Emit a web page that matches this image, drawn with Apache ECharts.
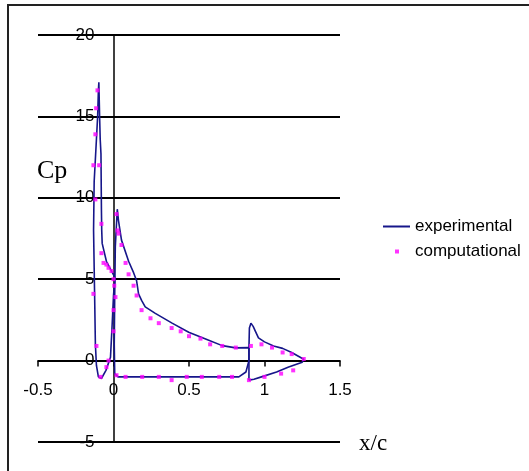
<!DOCTYPE html>
<html>
<head>
<meta charset="utf-8">
<script src="https://cdn.jsdelivr.net/npm/echarts@6/dist/echarts.min.js"></script>
<style>
html,body{margin:0;padding:0;background:#fff;}
#chart{width:529px;height:471px;}
</style>
</head>
<body>
<div id="chart"></div>
<script>
// x ticks and y ticks
const xTicks = [-0.5, 0, 0.5, 1, 1.5];
const yTicks = [-5, 0, 5, 10, 15, 20];

// experimental: slat element (closed loop)
const slatExp = [
  [0.010, 5.1], [-0.013, 5.5], [-0.047, 6.1], [-0.075, 7.2], [-0.078, 8.0],
  [-0.080, 9.3], [-0.083, 12.7], [-0.088, 13.6], [-0.092, 15.0], [-0.097, 17.1],
  [-0.100, 16.6], [-0.105, 15.0], [-0.113, 13.6], [-0.126, 13.5], [-0.128, 11.0],
  [-0.132, 8.0], [-0.125, 4.0], [-0.120, 1.0], [-0.113, -0.3], [-0.100, -1.0],
  [-0.080, -1.1], [-0.050, -0.6], [-0.020, 0.2], [-0.010, 2.0], [0.000, 4.0],
  [0.010, 5.1]
];
// experimental: main element
const mainExp = [
  [0.897, 0.8], [0.810, 0.78], [0.720, 0.92], [0.610, 1.33], [0.498, 1.74],
  [0.388, 2.3], [0.277, 2.9], [0.210, 3.3], [0.186, 3.7], [0.166, 4.1],
  [0.153, 4.9], [0.133, 5.4], [0.100, 6.1], [0.053, 7.4], [0.033, 8.6],
  [0.025, 9.3], [0.018, 9.2], [0.012, 7.0], [0.008, 4.0], [0.005, 1.0],
  [0.008, -0.8], [0.030, -1.0], [0.200, -1.0], [0.400, -1.0], [0.600, -1.0],
  [0.830, -1.0], [0.877, -0.7], [0.897, 0.0], [0.897, 0.8]
];
// experimental: flap element
const flapExp = [
  [0.897, -1.2], [0.897, 0.8], [0.900, 2.0], [0.910, 2.3], [0.925, 2.1],
  [0.940, 1.8], [0.960, 1.4], [1.000, 1.15], [1.060, 0.9], [1.120, 0.75],
  [1.180, 0.5], [1.260, 0.08], [1.250, -0.1], [1.160, -0.4], [1.080, -0.7],
  [0.980, -1.0], [0.930, -1.15], [0.897, -1.2]
];
// computational points
const compPts = [
  [-0.106, 16.6], [-0.115, 15.5], [-0.120, 13.9], [-0.133, 12.0], [-0.095, 12.0],
  [-0.120, 9.9], [-0.080, 8.4], [-0.080, 6.6], [-0.066, 6.0], [-0.047, 5.9],
  [-0.033, 5.7], [-0.013, 5.5], [0.000, 5.0], [0.005, 4.6], [-0.133, 4.1],
  [-0.113, 0.9], [-0.086, -1.0], [-0.047, -0.4], [-0.033, 0.0], [0.000, 1.8],
  [0.000, 3.1], [0.013, 3.9], [0.020, 9.0], [0.027, 8.0], [0.033, 7.8],
  [0.053, 7.1], [0.080, 6.0], [0.100, 5.3], [0.133, 4.6], [0.153, 4.0],
  [0.186, 3.1], [0.245, 2.6], [0.300, 2.3], [0.385, 2.0], [0.445, 1.8],
  [0.500, 1.5], [0.576, 1.35], [0.640, 1.0], [0.720, 0.9], [0.810, 0.8],
  [0.910, 0.9], [0.980, 1.0], [1.050, 0.8], [1.120, 0.5], [1.180, 0.4],
  [1.260, 0.1], [1.190, -0.6], [1.110, -0.8], [1.000, -1.0], [0.897, -1.2],
  [0.785, -1.0], [0.700, -1.0], [0.585, -1.0], [0.485, -1.0], [0.385, -1.2],
  [0.300, -1.0], [0.190, -1.0], [0.080, -1.0], [0.020, -0.9]
];

const W = 529, H = 471;
const G = {left: 38, right: 189, top: 35, bottom: 29};
const gw = W - G.left - G.right, gh = H - G.top - G.bottom;
const xMin = xTicks[0], xMax = xTicks[xTicks.length - 1];
const yMin = yTicks[0], yMax = yTicks[yTicks.length - 1];
// move axes (line, ticks, labels) to cross at zero
const xOffset = -((0 - yMin) / (yMax - yMin)) * gh;
const yOffset = -((0 - xMin) / (xMax - xMin)) * gw;

const chart = echarts.init(document.getElementById('chart'), null, {renderer: 'canvas'});
const blue = '#16168a';
const magenta = '#ff00ff';
const lineSeries = [slatExp, mainExp, flapExp].map(d => ({
  name: 'experimental', type: 'line', data: d, symbol: 'none',
  lineStyle: {color: blue, width: 1.6}, itemStyle: {color: blue}, z: 3
}));
chart.setOption({
  animation: false,
  backgroundColor: '#fff',
  grid: G,
  xAxis: {
    type: 'value', min: xMin, max: xMax, interval: 0.5, position: 'bottom', offset: xOffset,
    axisLine: {onZero: false, lineStyle: {color: '#000', width: 1.5}},
    axisTick: {show: true, length: 6, lineStyle: {color: '#000', width: 1.5}},
    axisLabel: {margin: 21, fontSize: 17, color: '#000', fontFamily: 'Liberation Sans'},
    splitLine: {show: false}
  },
  yAxis: {
    type: 'value', min: yMin, max: yMax, interval: 5, position: 'left', offset: yOffset,
    axisLine: {onZero: false, lineStyle: {color: '#000', width: 1.5}},
    axisTick: {show: false},
    axisLabel: {margin: 19, fontSize: 17, color: '#000', fontFamily: 'Liberation Sans'},
    splitLine: {show: true, lineStyle: {color: '#000', width: 2}}
  },
  legend: [{
    data: ['experimental'], orient: 'vertical', left: 378, top: 213,
    itemWidth: 27, itemHeight: 14, icon: 'path://M0,6h27v2h-27z',
    textStyle: {fontSize: 17, color: '#000', fontFamily: 'Liberation Sans'}
  }, {
    data: [{name: 'computational', icon: 'rect'}], orient: 'vertical', left: 390, top: 238,
    itemWidth: 4, itemHeight: 4,
    textStyle: {fontSize: 17, color: '#000', fontFamily: 'Liberation Sans', padding: [0, 0, 0, 11]}
  }],
  graphic: [
    {type: 'rect', shape: {x: 8, y: 5, width: 700, height: 700},
     style: {fill: 'none', stroke: '#222', lineWidth: 2}, silent: true},
    {type: 'text', left: 37, top: 158,
     style: {text: 'Cp', font: '26px "Liberation Serif"', fill: '#000'}},
    {type: 'text', left: 359, top: 432,
     style: {text: 'x/c', font: '23px "Liberation Serif"', fill: '#000'}}
  ],
  series: lineSeries.concat([{
    name: 'computational', type: 'scatter', data: compPts,
    symbol: 'rect', symbolSize: 4, itemStyle: {color: magenta}, z: 4
  }])
});
</script>
</body>
</html>
